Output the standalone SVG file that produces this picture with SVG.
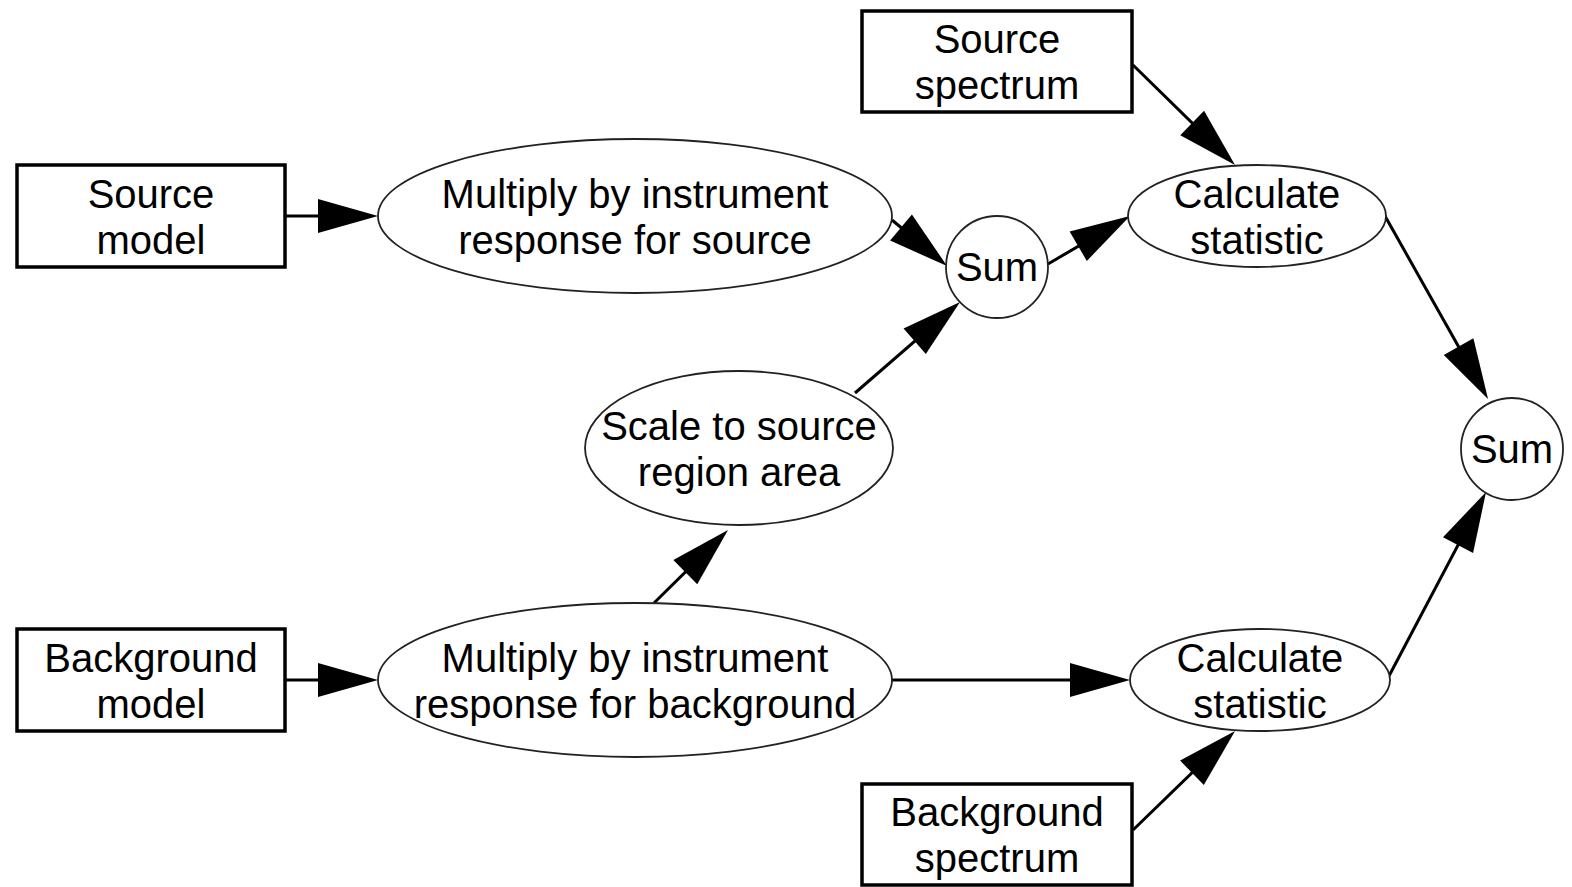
<svg xmlns="http://www.w3.org/2000/svg" width="1572" height="887" viewBox="0 0 1572 887">
<style>
.box{fill:#fff;stroke:#000;stroke-width:3.5}
.ell{fill:#fff;stroke:#222;stroke-width:1.8}
text{font-family:"Liberation Sans",Arial,sans-serif;font-size:40px;fill:#000;text-anchor:middle}
.edge{stroke:#000;stroke-width:3;fill:none;marker-end:url(#ah)}
</style>
<defs>
<marker id="ah" markerUnits="userSpaceOnUse" markerWidth="62" markerHeight="36" refX="52" refY="17" orient="auto" viewBox="0 0 62 36" overflow="visible">
<path d="M0,0 L60,17 L0,34 z" fill="#000"/>
</marker>
</defs>
<rect width="1572" height="887" fill="#fff"/>
<g id="connectors">
<line class="edge" x1="286" y1="216" x2="370" y2="216"/>
<line class="edge" x1="286" y1="680" x2="370" y2="680"/>
<line class="edge" x1="892" y1="220" x2="940.9" y2="260.9"/>
<line class="edge" x1="855" y1="393" x2="954" y2="307.2"/>
<line class="edge" x1="654" y1="603" x2="722.3" y2="535.6"/>
<line class="edge" x1="1048" y1="264" x2="1123.1" y2="220"/>
<line class="edge" x1="1133" y1="65" x2="1229.3" y2="159.4"/>
<line class="edge" x1="1385" y1="216" x2="1484.1" y2="392"/>
<line class="edge" x1="892" y1="680" x2="1122" y2="680"/>
<line class="edge" x1="1133" y1="830" x2="1229.3" y2="736.6"/>
<line class="edge" x1="1389" y1="676" x2="1482.3" y2="499.1"/>
</g>
<g id="source-model">
<rect class="box" x="17" y="165" width="268" height="102"/>
<text x="151" y="208">Source</text>
<text x="151" y="254">model</text>
</g>
<g id="background-model">
<rect class="box" x="17" y="629" width="268" height="102"/>
<text x="151" y="672">Background</text>
<text x="151" y="718">model</text>
</g>
<g id="source-spectrum">
<rect class="box" x="862" y="11" width="270" height="101"/>
<text x="997" y="53">Source</text>
<text x="997" y="99">spectrum</text>
</g>
<g id="background-spectrum">
<rect class="box" x="862" y="784" width="270" height="101"/>
<text x="997" y="826">Background</text>
<text x="997" y="872">spectrum</text>
</g>
<g id="multiply-source">
<ellipse class="ell" cx="635" cy="216" rx="257" ry="77"/>
<text x="635" y="208">Multiply by instrument</text>
<text x="635" y="254">response for source</text>
</g>
<g id="multiply-background">
<ellipse class="ell" cx="635" cy="680" rx="257" ry="77"/>
<text x="635" y="672">Multiply by instrument</text>
<text x="635" y="718">response for background</text>
</g>
<g id="scale">
<ellipse class="ell" cx="739" cy="448" rx="154" ry="77"/>
<text x="739" y="440">Scale to source</text>
<text x="739" y="486">region area</text>
</g>
<g id="sum-top">
<circle class="ell" cx="997" cy="267" r="51"/>
<text x="997" y="281">Sum</text>
</g>
<g id="calc-top">
<ellipse class="ell" cx="1257" cy="216" rx="129" ry="51"/>
<text x="1257" y="208">Calculate</text>
<text x="1257" y="254">statistic</text>
</g>
<g id="calc-bottom">
<ellipse class="ell" cx="1260" cy="680" rx="130" ry="51"/>
<text x="1260" y="672">Calculate</text>
<text x="1260" y="718">statistic</text>
</g>
<g id="sum-right">
<circle class="ell" cx="1512" cy="449" r="51"/>
<text x="1512" y="463">Sum</text>
</g>
</svg>
